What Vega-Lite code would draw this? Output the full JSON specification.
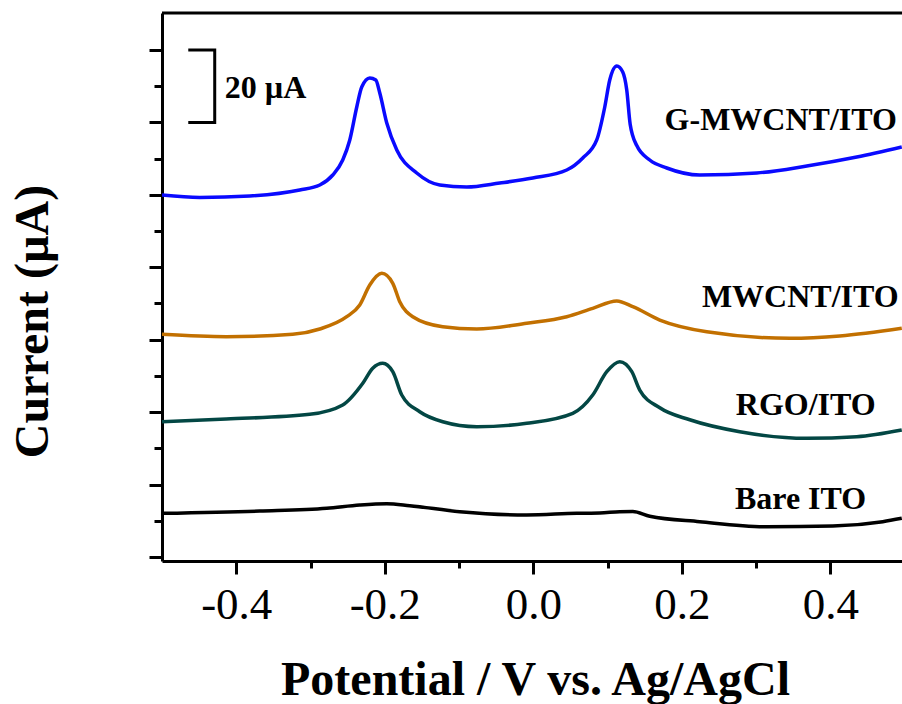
{
  "$schema": "https://vega.github.io/schema/vega-lite/v6.json",
  "autosize": {"type": "none"},
  "padding": {"left": 162, "top": 13, "right": 0, "bottom": 143},
  "width": 740,
  "height": 548,
  "background": "white",
  "config": {
    "view": {"stroke": null},
    "axis": {
      "grid": false,
      "domainColor": "black",
      "domainWidth": 3,
      "tickColor": "black",
      "tickWidth": 3,
      "labelFont": "Liberation Serif",
      "labelFontSize": 45,
      "labelColor": "black",
      "titleFont": "Liberation Serif",
      "titleFontWeight": "bold",
      "titleFontSize": 48,
      "titleColor": "black"
    }
  },
  "datasets": {
    "curves": [
      {"s": "G-MWCNT/ITO", "E": -0.5, "I": 99.96},
      {"s": "G-MWCNT/ITO", "E": -0.4492, "I": 99.27},
      {"s": "G-MWCNT/ITO", "E": -0.3818, "I": 99.68},
      {"s": "G-MWCNT/ITO", "E": -0.3145, "I": 101.34},
      {"s": "G-MWCNT/ITO", "E": -0.2875, "I": 102.72},
      {"s": "G-MWCNT/ITO", "E": -0.27, "I": 105.48},
      {"s": "G-MWCNT/ITO", "E": -0.2566, "I": 109.62},
      {"s": "G-MWCNT/ITO", "E": -0.2471, "I": 115.15},
      {"s": "G-MWCNT/ITO", "E": -0.2377, "I": 124.26},
      {"s": "G-MWCNT/ITO", "E": -0.231, "I": 129.78},
      {"s": "G-MWCNT/ITO", "E": -0.2202, "I": 132.27},
      {"s": "G-MWCNT/ITO", "E": -0.2121, "I": 131.71},
      {"s": "G-MWCNT/ITO", "E": -0.2067, "I": 128.12},
      {"s": "G-MWCNT/ITO", "E": -0.1973, "I": 119.84},
      {"s": "G-MWCNT/ITO", "E": -0.1838, "I": 112.39},
      {"s": "G-MWCNT/ITO", "E": -0.1569, "I": 106.03},
      {"s": "G-MWCNT/ITO", "E": -0.1259, "I": 102.72},
      {"s": "G-MWCNT/ITO", "E": -0.0896, "I": 102.17},
      {"s": "G-MWCNT/ITO", "E": -0.0451, "I": 103.27},
      {"s": "G-MWCNT/ITO", "E": -0.0007, "I": 104.65},
      {"s": "G-MWCNT/ITO", "E": 0.0451, "I": 106.86},
      {"s": "G-MWCNT/ITO", "E": 0.0667, "I": 110.18},
      {"s": "G-MWCNT/ITO", "E": 0.0855, "I": 115.15},
      {"s": "G-MWCNT/ITO", "E": 0.0963, "I": 124.26},
      {"s": "G-MWCNT/ITO", "E": 0.103, "I": 131.71},
      {"s": "G-MWCNT/ITO", "E": 0.1125, "I": 135.58},
      {"s": "G-MWCNT/ITO", "E": 0.1205, "I": 133.92},
      {"s": "G-MWCNT/ITO", "E": 0.1259, "I": 128.95},
      {"s": "G-MWCNT/ITO", "E": 0.1305, "I": 119.5},
      {"s": "G-MWCNT/ITO", "E": 0.1394, "I": 113.6},
      {"s": "G-MWCNT/ITO", "E": 0.1569, "I": 109.62},
      {"s": "G-MWCNT/ITO", "E": 0.1798, "I": 107.41},
      {"s": "G-MWCNT/ITO", "E": 0.2242, "I": 105.48},
      {"s": "G-MWCNT/ITO", "E": 0.301, "I": 106.03},
      {"s": "G-MWCNT/ITO", "E": 0.3684, "I": 107.97},
      {"s": "G-MWCNT/ITO", "E": 0.4357, "I": 110.45},
      {"s": "G-MWCNT/ITO", "E": 0.4963, "I": 113.21},

      {"s": "MWCNT/ITO", "E": -0.5, "I": 61.49},
      {"s": "MWCNT/ITO", "E": -0.4135, "I": 60.83},
      {"s": "MWCNT/ITO", "E": -0.3239, "I": 61.49},
      {"s": "MWCNT/ITO", "E": -0.2875, "I": 62.96},
      {"s": "MWCNT/ITO", "E": -0.2512, "I": 66.35},
      {"s": "MWCNT/ITO", "E": -0.2337, "I": 69.59},
      {"s": "MWCNT/ITO", "E": -0.2202, "I": 75.11},
      {"s": "MWCNT/ITO", "E": -0.204, "I": 78.34},
      {"s": "MWCNT/ITO", "E": -0.1892, "I": 75.58},
      {"s": "MWCNT/ITO", "E": -0.1798, "I": 70.5},
      {"s": "MWCNT/ITO", "E": -0.1623, "I": 66.35},
      {"s": "MWCNT/ITO", "E": -0.1219, "I": 63.59},
      {"s": "MWCNT/ITO", "E": -0.0761, "I": 62.96},
      {"s": "MWCNT/ITO", "E": -0.0088, "I": 64.53},
      {"s": "MWCNT/ITO", "E": 0.0451, "I": 66.35},
      {"s": "MWCNT/ITO", "E": 0.0801, "I": 68.67},
      {"s": "MWCNT/ITO", "E": 0.1125, "I": 70.69},
      {"s": "MWCNT/ITO", "E": 0.134, "I": 69.12},
      {"s": "MWCNT/ITO", "E": 0.1704, "I": 65.44},
      {"s": "MWCNT/ITO", "E": 0.2337, "I": 62.21},
      {"s": "MWCNT/ITO", "E": 0.3455, "I": 60.39},
      {"s": "MWCNT/ITO", "E": 0.4128, "I": 61.02},
      {"s": "MWCNT/ITO", "E": 0.4963, "I": 63.15},

      {"s": "RGO/ITO", "E": -0.5, "I": 37.36},
      {"s": "RGO/ITO", "E": -0.4135, "I": 38.11},
      {"s": "RGO/ITO", "E": -0.301, "I": 39.4},
      {"s": "RGO/ITO", "E": -0.2566, "I": 41.97},
      {"s": "RGO/ITO", "E": -0.2296, "I": 47.96},
      {"s": "RGO/ITO", "E": -0.2162, "I": 52.11},
      {"s": "RGO/ITO", "E": -0.2027, "I": 53.49},
      {"s": "RGO/ITO", "E": -0.1892, "I": 51.17},
      {"s": "RGO/ITO", "E": -0.1771, "I": 44.73},
      {"s": "RGO/ITO", "E": -0.1529, "I": 40.12},
      {"s": "RGO/ITO", "E": -0.1219, "I": 37.36},
      {"s": "RGO/ITO", "E": -0.0761, "I": 35.98},
      {"s": "RGO/ITO", "E": -0.0088, "I": 36.92},
      {"s": "RGO/ITO", "E": 0.0532, "I": 39.68},
      {"s": "RGO/ITO", "E": 0.0801, "I": 44.73},
      {"s": "RGO/ITO", "E": 0.099, "I": 51.17},
      {"s": "RGO/ITO", "E": 0.1165, "I": 53.93},
      {"s": "RGO/ITO", "E": 0.1327, "I": 51.17},
      {"s": "RGO/ITO", "E": 0.1434, "I": 46.11},
      {"s": "RGO/ITO", "E": 0.1704, "I": 41.2},
      {"s": "RGO/ITO", "E": 0.2108, "I": 37.9},
      {"s": "RGO/ITO", "E": 0.2781, "I": 34.6},
      {"s": "RGO/ITO", "E": 0.3684, "I": 32.78},
      {"s": "RGO/ITO", "E": 0.4357, "I": 33.22},
      {"s": "RGO/ITO", "E": 0.4963, "I": 35.07},

      {"s": "Bare ITO", "E": -0.5, "I": 12.07},
      {"s": "Bare ITO", "E": -0.3684, "I": 12.7},
      {"s": "Bare ITO", "E": -0.2781, "I": 13.45},
      {"s": "Bare ITO", "E": -0.2337, "I": 14.36},
      {"s": "Bare ITO", "E": -0.1973, "I": 14.72},
      {"s": "Bare ITO", "E": -0.1663, "I": 14.17},
      {"s": "Bare ITO", "E": -0.099, "I": 12.51},
      {"s": "Bare ITO", "E": -0.0088, "I": 11.6},
      {"s": "Bare ITO", "E": 0.0586, "I": 12.07},
      {"s": "Bare ITO", "E": 0.0896, "I": 12.15},
      {"s": "Bare ITO", "E": 0.1165, "I": 12.51},
      {"s": "Bare ITO", "E": 0.134, "I": 12.56},
      {"s": "Bare ITO", "E": 0.1569, "I": 11.24},
      {"s": "Bare ITO", "E": 0.2242, "I": 9.75},
      {"s": "Bare ITO", "E": 0.3145, "I": 8.37},
      {"s": "Bare ITO", "E": 0.4034, "I": 8.56},
      {"s": "Bare ITO", "E": 0.4707, "I": 9.75},
      {"s": "Bare ITO", "E": 0.4963, "I": 10.69}
    ],
    "labels": [
      {"text": "G-MWCNT/ITO", "E": 0.3333, "I": 117.9},
      {"text": "MWCNT/ITO", "E": 0.3596, "I": 69.0},
      {"text": "RGO/ITO", "E": 0.367, "I": 39.2},
      {"text": "Bare ITO", "E": 0.36, "I": 13.25}
    ],
    "bar": [
      {"k": 1, "E": -0.4626, "I": 140},
      {"k": 2, "E": -0.429, "I": 140},
      {"k": 3, "E": -0.429, "I": 120},
      {"k": 4, "E": -0.4626, "I": 120}
    ],
    "barlabel": [
      {"text": "20 µA", "E": -0.4155, "I": 126.7}
    ],
    "frame": [
      {"E0": -0.5, "E1": 0.4966, "I": 150.21}
    ]
  },
  "layer": [
    {
      "data": {"name": "curves"},
      "mark": {"type": "line", "strokeWidth": 3.5, "interpolate": "monotone", "clip": true},
      "encoding": {
        "x": {
          "field": "E", "type": "quantitative",
          "scale": {"domain": [-0.5, 0.4966], "nice": false, "zero": false},
          "axis": {
            "orient": "bottom",
            "values": [-0.4, -0.2, 0, 0.2, 0.4],
            "format": ".1f",
            "labelExpr": "replace(datum.label, '−', '-')",
            "tickSize": 13,
            "labelPadding": 44,
            "labelBaseline": "alphabetic",
            "labelFlush": false,
            "labelOverlap": false,
            "title": "Potential / V vs. Ag/AgCl",
            "titleBaseline": "alphabetic",
            "titleX": 373,
            "titleY": 133,
            "titleAlign": "center"
          }
        },
        "y": {
          "field": "I", "type": "quantitative",
          "scale": {"domain": [-1.1, 150.21], "nice": false, "zero": false},
          "axis": {
            "orient": "left",
            "values": [0, 20, 40, 60, 80, 100, 120, 140],
            "tickSize": 13,
            "labels": false,
            "title": "Current (µA)",
            "titleAngle": -90,
            "titleBaseline": "alphabetic",
            "titleAlign": "center",
            "titleX": -115,
            "titleY": 308
          }
        },
        "color": {
          "field": "s", "type": "nominal",
          "scale": {
            "domain": ["G-MWCNT/ITO", "MWCNT/ITO", "RGO/ITO", "Bare ITO"],
            "range": ["#0a0aff", "#c27000", "#034744", "#000000"]
          },
          "legend": null
        },
        "detail": {"field": "s"}
      }
    },
    {
      "data": {"name": "curves"},
      "mark": {"type": "point", "opacity": 0},
      "encoding": {
        "x": {
          "field": "E", "type": "quantitative",
          "axis": {
            "orient": "bottom",
            "values": [-0.3, -0.1, 0.1, 0.3],
            "tickSize": 7,
            "labels": false,
            "domain": false,
            "title": null
          }
        },
        "y": {
          "field": "I", "type": "quantitative",
          "axis": {
            "orient": "left",
            "values": [10, 30, 50, 70, 90, 110, 130],
            "tickSize": 8,
            "labels": false,
            "domain": false,
            "title": null
          }
        }
      }
    },
    {
      "data": {"name": "frame"},
      "mark": {"type": "rule", "strokeWidth": 3, "color": "black", "clip": false},
      "encoding": {
        "x": {"field": "E0", "type": "quantitative", "axis": null},
        "x2": {"field": "E1"},
        "y": {"field": "I", "type": "quantitative", "axis": null}
      }
    },
    {
      "data": {"name": "bar"},
      "mark": {"type": "line", "strokeWidth": 3, "color": "black", "strokeCap": "square"},
      "encoding": {
        "x": {"field": "E", "type": "quantitative", "axis": null},
        "y": {"field": "I", "type": "quantitative", "axis": null},
        "order": {"field": "k"}
      }
    },
    {
      "data": {"name": "barlabel"},
      "mark": {"type": "text", "font": "Liberation Serif", "fontWeight": "bold", "fontSize": 32, "align": "left", "baseline": "alphabetic", "color": "black"},
      "encoding": {
        "x": {"field": "E", "type": "quantitative", "axis": null},
        "y": {"field": "I", "type": "quantitative", "axis": null},
        "text": {"field": "text"}
      }
    },
    {
      "data": {"name": "labels"},
      "mark": {"type": "text", "font": "Liberation Serif", "fontWeight": "bold", "fontSize": 32, "align": "center", "baseline": "alphabetic", "color": "black"},
      "encoding": {
        "x": {"field": "E", "type": "quantitative", "axis": null},
        "y": {"field": "I", "type": "quantitative", "axis": null},
        "text": {"field": "text"}
      }
    }
  ],
  "resolve": {"axis": {"x": "independent", "y": "independent"}}
}
